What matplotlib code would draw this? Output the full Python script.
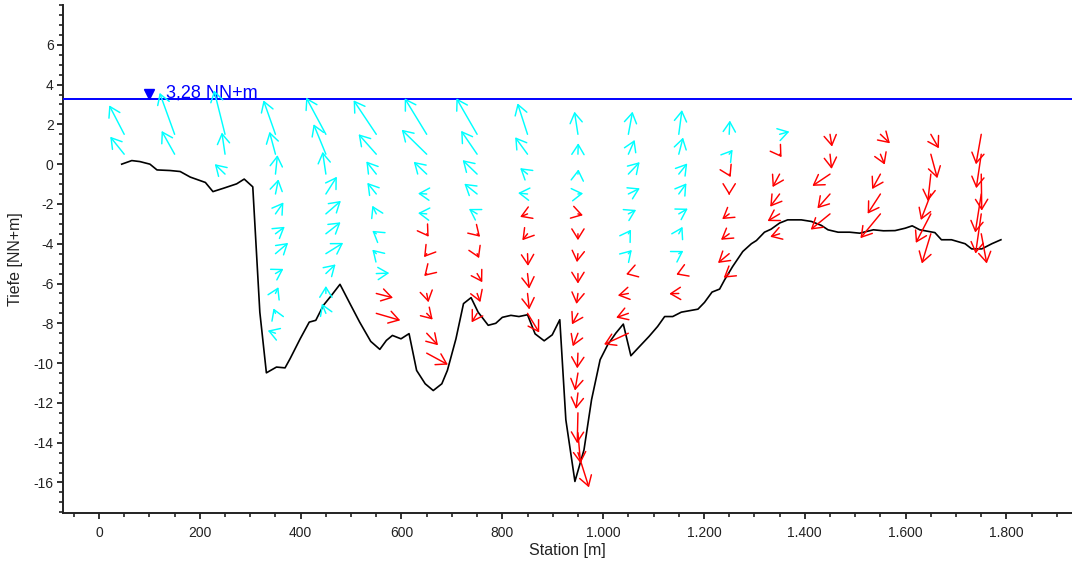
import numpy as np
import matplotlib
matplotlib.use("Agg")
import matplotlib.pyplot as plt
from matplotlib.ticker import MultipleLocator, FixedLocator, FuncFormatter

plt.rcParams['font.family'] = ['Liberation Sans', 'DejaVu Sans']
plt.rcParams['axes.unicode_minus'] = False

# ***** river bed profile *****
station = [45, 65, 81, 101, 115, 141, 161, 181, 211, 226,
           247, 273, 288, 305, 319, 332, 352, 369, 379, 389,
           399, 417, 430, 445, 461, 478, 498, 517, 539, 557,
           570, 582, 599, 615, 630, 647, 663, 680, 691, 708,
           723, 738, 752, 772, 787, 800, 817, 833, 850, 865,
           883, 899, 914, 926, 944, 962, 977, 994, 1009, 1025,
           1040, 1055, 1072, 1091, 1108, 1122, 1138, 1155, 1188, 1201,
           1216, 1231, 1241, 1257, 1277, 1294, 1304, 1320, 1333, 1350,
           1366, 1393, 1413, 1433, 1446, 1466, 1489, 1509, 1536, 1556,
           1579, 1599, 1613, 1628, 1658, 1671, 1691, 1718, 1731, 1751,
           1771, 1789]
bed = [0.0, 0.18, 0.13, 0.0, -0.29, -0.32, -0.37, -0.65, -0.92, -1.38,
       -1.21, -0.99, -0.75, -1.14, -7.44, -10.49, -10.2, -10.24, -9.78, -9.28,
       -8.78, -7.94, -7.85, -7.1, -6.6, -6.04, -7.02, -7.94, -8.91, -9.31,
       -8.86, -8.61, -8.78, -8.52, -10.37, -11.04, -11.38, -11.04, -10.37, -8.78,
       -7.01, -6.71, -7.44, -8.1, -8.0, -7.7, -7.6, -7.66, -7.57, -8.53,
       -8.88, -8.58, -7.82, -12.85, -15.95, -14.36, -11.84, -9.83, -9.08, -8.5,
       -8.04, -9.63, -9.17, -8.66, -8.16, -7.66, -7.66, -7.44, -7.29, -6.95,
       -6.43, -6.28, -5.81, -5.14, -4.39, -4.0, -3.84, -3.42, -3.27, -2.96,
       -2.8, -2.8, -2.88, -3.08, -3.3, -3.42, -3.42, -3.47, -3.3, -3.35,
       -3.34, -3.22, -3.1, -3.3, -3.44, -3.8, -3.8, -4.0, -4.26, -4.26,
       -4.0, -3.8]

water_level = 3.28
water_label = '3,28 NN+m'
marker_station = 100
label_station = 133

# ***** velocity verticals *****
vert_station = [50, 150, 250, 350, 450, 550, 650, 750, 850,
                950, 1050, 1150, 1250, 1350, 1450, 1550, 1650, 1750]
row_depth = [1.5, 0.5, -0.5, -1.5, -2.5, -3.5, -4.5, -5.5, -6.5,
             -7.5, -8.5, -9.5, -10.5, -11.5, -12.5, -13.5, -14.5]

# horizontal component per vertical, top row first
u_vel = [
    [-15, -14],
    [-15, -13],
    [-11, -3.2, -10.3],
    [-12, -6, 2, 3, 8, 9.3, 12.7, 8, 3, -2, -7.7],
    [-19.7, -12.3, -3.3, 11, 15, 14.7, 17.3, 9.7, 0, -4],
    [-22.7, -17.7, -10, -9, -4, -4, -4, 13, 16.7, 24],
    [-22, -25, -13, -8.7, -8.7, 2, -2.7, -2.5, 1.8, 6, 11.3, 21.2],
    [-20.7, -16, -14.5, -12.8, -8.2, 3, 2, 5.2, 3.3, -5.5],
    [-10, -12.4, -7.4, -9.5, -7.4, -5.2, 0.5, 1.7, 1.8, 11.7],
    [-3.5, 0.3, 0.5, 5.2, 5, 0, -1, 0, -1.5, -6, -5.2, -0.7, -3, -2, -0.7, 2.6, 11],
    [4.2, 6.3, 11.3, 11.5, 7.8, 2.7, 3.5, -2.3, -10.5, -12.2, -24.3],
    [3.2, 4.3, 8.5, 7.7, 9, 3.8, 4.6, -2.5, -9.5],
    [0.7, 3.5, 1.5, 0, -7, -8.2, -11.2, -5.5],
    [9.8, 2, -7, -9.4, -12, -9.4],
    [2, 1.6, -17.6, -12.6, -19.3],
    [9.5, 4.3, -8.3, -12.8, -20],
    [8, 6.5, -3, -10, -15, -9],
    [-5.3, -5, 0.5, -6, -5.7, 5.5],
]
# vertical component per vertical (positive = upward)
w_vel = [
    [29, 17.5],
    [41.5, 23.3],
    [44, 21.7, 10],
    [34, 22.5, 19, 14.7, 11.5, 7, 10.8, 4.7, 6.3, 5, 2.7],
    [36.7, 30, 22.3, 17.3, 13, 11.5, 10.8, 9.2, 7.5, 9.7],
    [34, 20, 12.7, 11.2, 8.2, 3, 4, 0.5, -4.3, -7],
    [36, 24.5, 12.3, 0.5, 0.8, -3, -3.5, -2.5, -8.8, -6.2, -12, -11.5],
    [36, 23.4, 14, 10.3, 5, -3, -4.5, -8.7, -8.7, -9],
    [31, 17, 6, 1, -3, -6.5, -12.2, -15, -16, -19.2],
    [22.7, 11, 4.8, 0.6, -1.4, -6.4, -8.5, -10, -10.5, -11, -13, -15.2, -17.5, -16, -30.5, -30.6, -34.8],
    [22.7, 14.3, 12, 5.7, 4, 4.2, 3.7, -0.7, -2, -4.3, -11.2],
    [24.3, 16.7, 10.7, 10.7, 5.3, 7, 2.8, -1, -0.3],
    [13.8, 4.5, -3, -1, -5.2, -6, -9.3, -4.2],
    [2.7, -3, -13, -12.7, -7.2, -3],
    [-12.3, -14.7, -11.8, -14.3, -15.7],
    [-9, -10.4, -15, -19.7, -24.3],
    [-14, -24, -27, -26, -29, -29.7],
    [-30, -34, -36.5, -38.5, -39.7, -29.7],
]
arrow_scale = 1.0  # display pixels per velocity unit

fig = plt.figure(figsize=(10.72, 5.63), dpi=100)
ax = fig.add_axes([0.0585, 0.0883, 0.9415, 0.9028])
ax.set_xlim(-72, 1930)
ax.set_ylim(-17.55, 8.0)

ax.plot(station, bed, color='black', lw=1.2, zorder=2)

ax.axhline(water_level, color='#0000ff', lw=1.4, zorder=3)
ax.plot([marker_station], [water_level + 0.27], marker='v', color='#0000ff',
        ms=6.5, ls='none', zorder=4)
ax.text(label_station, water_level + 0.05, water_label, color='#0000ff',
        fontsize=13, va='baseline', ha='left', zorder=4)

# arrows, tail on the grid point, length in screen pixels
to_px = ax.transData
to_data = ax.transData.inverted()
for xs, us, ws in zip(vert_station, u_vel, w_vel):
    for d, u, w in zip(row_depth, us, ws):
        tail = to_px.transform((xs, d))
        head = to_data.transform(tail + np.array([u, w]) * arrow_scale)
        col = '#00ffff' if w > 0 else '#ff0000'
        ax.annotate('', xy=head, xytext=(xs, d), annotation_clip=False,
                    arrowprops=dict(arrowstyle='->,head_length=0.42,head_width=0.26',
                                    color=col, lw=1.05, shrinkA=0, shrinkB=0,
                                    mutation_scale=17), zorder=5)

ax.spines['top'].set_visible(False)
ax.spines['right'].set_visible(False)
for s in ['left', 'bottom']:
    ax.spines[s].set_linewidth(1.4)
    ax.spines[s].set_color('#222222')

ax.xaxis.set_major_locator(MultipleLocator(200))
ax.xaxis.set_minor_locator(MultipleLocator(50))
ax.yaxis.set_major_locator(FixedLocator(list(range(-16, 7, 2))))
ax.yaxis.set_minor_locator(MultipleLocator(0.5))
ax.xaxis.set_major_formatter(FuncFormatter(lambda v, p: f'{int(v):,}'.replace(',', '.')))
ax.tick_params(which='major', length=4.5, width=1.3, direction='out',
               labelsize=10, colors='#222222')
ax.tick_params(which='minor', length=2.8, width=1.2, direction='out', colors='#222222')
ax.tick_params(axis='x', which='major', pad=5)
ax.tick_params(axis='y', which='major', pad=2)

ax.set_xlabel('Station [m]', fontsize=11.5, color='#222222')
ax.set_ylabel('Tiefe [NN+m]', fontsize=11.5, color='#222222')
ax.xaxis.set_label_coords(0.5, -0.058)
ax.yaxis.set_label_coords(-0.039, 0.5)

fig.savefig('out.png', dpi=100)
